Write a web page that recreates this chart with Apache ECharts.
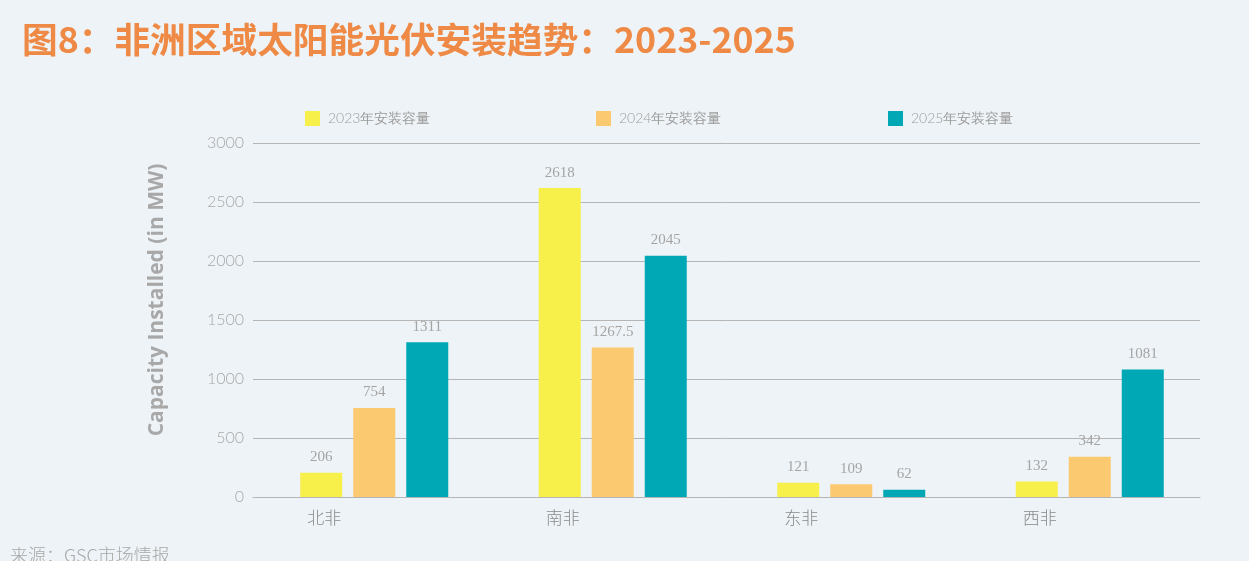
<!DOCTYPE html>
<html>
<head>
<meta charset="utf-8">
<script src="https://cdn.jsdelivr.net/npm/echarts@6/dist/echarts.min.js"></script>
<style>
  html, body { margin: 0; padding: 0; background: #eef3f7; }
  #chart { width: 1249px; height: 561px; }
</style>
</head>
<body>
<div id="chart"></div>
<script>
const regions = ['北非', '南非', '东非', '西非']
const yTicks = [0, 500, 1000, 1500, 2000, 2500, 3000]
const seriesNames = ['2023年安装容量', '2024年安装容量', '2025年安装容量']
const data2023 = [206, 2618, 121, 132]
const data2024 = [754, 1267.5, 109, 342]
const data2025 = [1311, 2045, 62, 1081]

const colors = ['#f7f04a', '#fbc96f', '#00a8b5']
const lightFont = 'Lato'

const legendPos = [305, 596, 888]
const legends = seriesNames.map((name, i) => ({
  left: legendPos[i],
  top: 111,
  padding: 0,
  data: [name],
  icon: 'rect',
  itemWidth: 15,
  itemHeight: 15,
  itemGap: 8,
  textStyle: { color: '#9c9c9c', fontSize: 14, fontFamily: lightFont, fontWeight: 300, padding: [0, 0, 0, 3] }
}))

const allData = [data2023, data2024, data2025]
const series = seriesNames.map((name, i) => ({
  name,
  type: 'bar',
  xAxisIndex: 1,
  yAxisIndex: 1,
  barWidth: 42,
  barGap: '26.2%',
  itemStyle: { color: colors[i] },
  label: {
    show: true,
    position: 'top',
    distance: 8,
    color: '#a4a4a4',
    fontSize: 15,
    fontFamily: 'Liberation Serif'
  },
  data: allData[i]
}))

const yMin = yTicks[0]
const yMax = yTicks[yTicks.length - 1]

const chart = echarts.init(document.getElementById('chart'))
chart.setOption({
  backgroundColor: '#eef3f7',
  color: colors,
  title: {
    text: '图8：非洲区域太阳能光伏安装趋势：2023-2025',
    left: 17,
    top: 17,
    textStyle: {
      color: '#ee8a45',
      fontSize: 35.7,
      fontWeight: 'bold',
      fontFamily: 'Noto Sans CJK SC'
    }
  },
  legend: legends,
  // grid 0 carries the gridlines and y labels, grid 1 the bars
  grid: [
    { left: 253, right: 49, top: 143, bottom: 64 },
    { left: 255, right: 40, top: 143, bottom: 64 }
  ],
  xAxis: [{
    gridIndex: 0,
    type: 'category',
    data: regions,
    axisLine: { lineStyle: { color: '#b5b5b5' } },
    axisTick: { show: false },
    axisLabel: { show: false }
  }, {
    gridIndex: 1,
    type: 'category',
    data: regions,
    axisLine: { show: false },
    axisTick: { show: false },
    axisLabel: {
      margin: 12,
      color: '#8a8a8a',
      fontSize: 17,
      fontFamily: 'Noto Sans CJK SC',
      fontWeight: 300,
      padding: [0, 100, 0, 0]
    }
  }],
  yAxis: [{
    gridIndex: 0,
    type: 'value',
    min: yMin,
    max: yMax,
    interval: 500,
    name: 'Capacity Installed (in MW)',
    nameLocation: 'middle',
    nameGap: 85,
    nameTextStyle: {
      color: '#a8a8a8',
      fontSize: 21,
      fontWeight: 'bold',
      fontFamily: 'Open Sans',
      padding: [0, 0, 0, 40]
    },
    axisLine: { show: false },
    axisTick: { show: false },
    axisLabel: {
      margin: 9,
      color: '#a8a8a8',
      fontSize: 16,
      fontFamily: lightFont,
      fontWeight: 300,
      formatter: v => String(v)
    },
    splitLine: { lineStyle: { color: '#b5b5b5', width: 1 } }
  }, {
    gridIndex: 1,
    type: 'value',
    min: yMin,
    max: yMax,
    interval: 500,
    axisLine: { show: false },
    axisTick: { show: false },
    axisLabel: { show: false },
    splitLine: { show: false }
  }],
  graphic: [{
    type: 'text',
    left: 10,
    top: 546,
    style: {
      text: '来源：GSC市场情报',
      fill: '#a8a8a8',
      fontSize: 18,
      fontFamily: 'Noto Sans CJK SC',
      fontWeight: 300
    }
  }],
  series
})
</script>
</body>
</html>
